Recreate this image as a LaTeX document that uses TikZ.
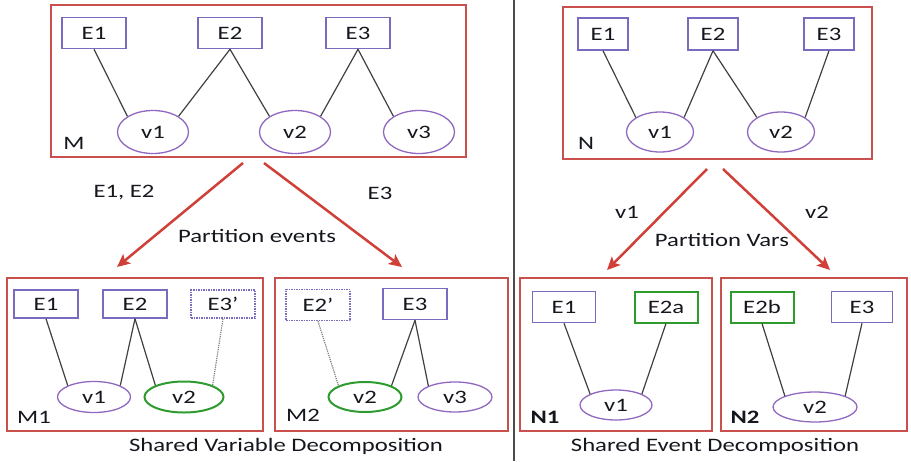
\documentclass[tikz,border=0pt]{standalone}
\usepackage{fontspec}
\setmainfont{Carlito}[FakeStretch=1.3]
\usetikzlibrary{shapes.geometric,arrows.meta}
\definecolor{frmred}{HTML}{C9504D}
\definecolor{arrred}{HTML}{D04038}
\definecolor{evtcol}{HTML}{7A6AC0}
\definecolor{varcol}{HTML}{9068C0}
\definecolor{grncol}{HTML}{2E9B2E}
\definecolor{txtcol}{HTML}{15171E}
\begin{document}
\begin{tikzpicture}[
		x=1pt, y=-1pt,
		font=\fontsize{19}{21}\selectfont, text=txtcol,
		frame/.style={draw=frmred, line width=2pt},
		evt/.style={draw=evtcol, line width=1.5pt, minimum width=64pt, minimum height=31pt, inner sep=0pt},
		evtd/.style={evt, densely dotted},
		evtg/.style={evt, draw=grncol, line width=2pt},
		var/.style={ellipse, draw=varcol, line width=1.3pt, minimum width=71pt, minimum height=43pt, inner sep=0pt},
		varg/.style={var, draw=grncol, line width=2pt},
		lnk/.style={draw=black!75, line width=1.2pt},
		lnkd/.style={draw=black!50, line width=1.2pt, densely dotted},
		part/.style={draw=arrred, line width=2.5pt, -{Stealth[length=13pt,width=12pt,inset=3pt]}}
		]
		\useasboundingbox (0,0) rectangle (911,461);
		% separator
		\coordinate (sepT) at (514,0);
		\coordinate (sepB) at (514,461);
		\draw[black!70, line width=2pt] (sepT) -- (sepB);
		
		% model M
		\draw[frame] (51,5) rectangle (466,157);
		\node (lM) at (74,143) {M};
		\node[evt] (mE1) at (94,33) {E1};
		\node[evt] (mE2) at (230,33) {E2};
		\node[evt] (mE3) at (358,33) {E3};
		\node[var] (mv1) at (153,132) {v1};
		\node[var] (mv2) at (295,132) {v2};
		\node[var] (mv3) at (419,132) {v3};
		\draw[lnk] (mE1.south) -- (mv1.north west);
		\draw[lnk] (mE2.south) -- (mv1.north east);
		\draw[lnk] (mE2.south) -- (mv2.north west);
		\draw[lnk] (mE3.south) -- (mv2.north east);
		\draw[lnk] (mE3.south) -- (mv3.north west);
		
		% model N
		\draw[frame] (563,7) rectangle (872,159);
		\node (lN) at (586,143) {N};
		\node[evt, minimum width=50pt, minimum height=32pt] (nE1) at (603,34) {E1};
		\node[evt, minimum width=50pt, minimum height=32pt] (nE2) at (713,34) {E2};
		\node[evt, minimum width=50pt, minimum height=32pt] (nE3) at (829,34) {E3};
		\node[var, minimum width=67pt, minimum height=40pt] (nv1) at (660,132) {v1};
		\node[var, minimum width=67pt, minimum height=40pt] (nv2) at (781,132) {v2};
		\draw[lnk] (nE1.south) -- (nv1.north west);
		\draw[lnk] (nE2.south) -- (nv1.north east);
		\draw[lnk] (nE2.south) -- (nv2.north west);
		\draw[lnk] (nE3.south) -- (nv2.north east);
		
		% partition arrows
		\coordinate (mOutL) at (243,163);
		\coordinate (mOutR) at (264,163);
		\coordinate (m1In) at (117,267);
		\coordinate (m2In) at (402,267);
		\draw[part] (mOutL) -- (m1In);
		\draw[part] (mOutR) -- (m2In);
		\node (lE12) at (124,193) {E1, E2};
		\node (lE3) at (380,193) {E3};
		\node (pEv) at (257,236) {Partition events};
		
		\coordinate (nOutL) at (707,169);
		\coordinate (nOutR) at (723,169);
		\coordinate (n1In) at (607,270);
		\coordinate (n2In) at (830,270);
		\draw[part] (nOutL) -- (n1In);
		\draw[part] (nOutR) -- (n2In);
		\node (lv1) at (627,212) {v1};
		\node (lv2) at (817,212) {v2};
		\node (pVar) at (722,240) {Partition Vars};
		
		% model M1
		\draw[frame] (7,278) rectangle (263,431);
		\node (lM1) at (34,417) {M1};
		\node[evt, minimum height=28pt] (aE1) at (46,304) {E1};
		\node[evt, minimum height=28pt] (aE2) at (135,304) {E2};
		\node[evtd, minimum height=28pt] (aE3) at (223,304) {E3’};
		\node[var, minimum width=73pt, minimum height=31pt] (av1) at (94,397) {v1};
		\node[varg, minimum width=79pt, minimum height=31pt] (av2) at (184,397) {v2};
		\draw[lnk] (aE1.south) -- (av1.north west);
		\draw[lnk] (aE2.south) -- (av1.north east);
		\draw[lnk] (aE2.south) -- (av2.north west);
		\draw[lnkd] (aE3.south) -- (av2.north east);
		
		% model M2
		\draw[frame] (275,278) rectangle (508,431);
		\node (lM2) at (303,415) {M2};
		\node[evtd] (bE2) at (318,305) {E2’};
		\node[evt] (bE3) at (415,304) {E3};
		\node[varg, minimum width=73pt, minimum height=30pt] (bv2) at (365,397) {v2};
		\node[var, minimum width=74pt, minimum height=30pt] (bv3) at (455,397) {v3};
		\draw[lnkd] (bE2.south) -- (bv2.north west);
		\draw[lnk] (bE3.south) -- (bv2.north east);
		\draw[lnk] (bE3.south) -- (bv3.north west);
		
		% model N1
		\draw[frame] (520,278) rectangle (712,431);
		\node[font=\fontsize{19}{21}\selectfont\bfseries] (lN1) at (545,417) {N1};
		\node[evt, minimum width=63pt] (cE1) at (564,307) {E1};
		\node[evtg, minimum width=63pt] (cE2) at (666,307) {E2a};
		\node[var, minimum width=72pt, minimum height=30pt] (cv1) at (616,405) {v1};
		\draw[lnk] (cE1.south) -- (cv1.north west);
		\draw[lnk] (cE2.south) -- (cv1.north east);
		
		% model N2
		\draw[frame] (721,278) rectangle (907,431);
		\node[font=\fontsize{19}{21}\selectfont\bfseries] (lN2) at (745,417) {N2};
		\node[evtg, minimum width=63pt] (dE2) at (762,307) {E2b};
		\node[evt, minimum width=61pt] (dE3) at (862,307) {E3};
		\node[var, minimum width=84pt, minimum height=30pt] (dv2) at (815,407) {v2};
		\draw[lnk] (dE2.south) -- (dv2.north west);
		\draw[lnk] (dE3.south) -- (dv2.north east);
		
		% captions
		\node (capM) at (286,446) {Shared Variable Decomposition};
		\node (capN) at (715,446) {Shared Event Decomposition};
	\end{tikzpicture}
\end{document}
